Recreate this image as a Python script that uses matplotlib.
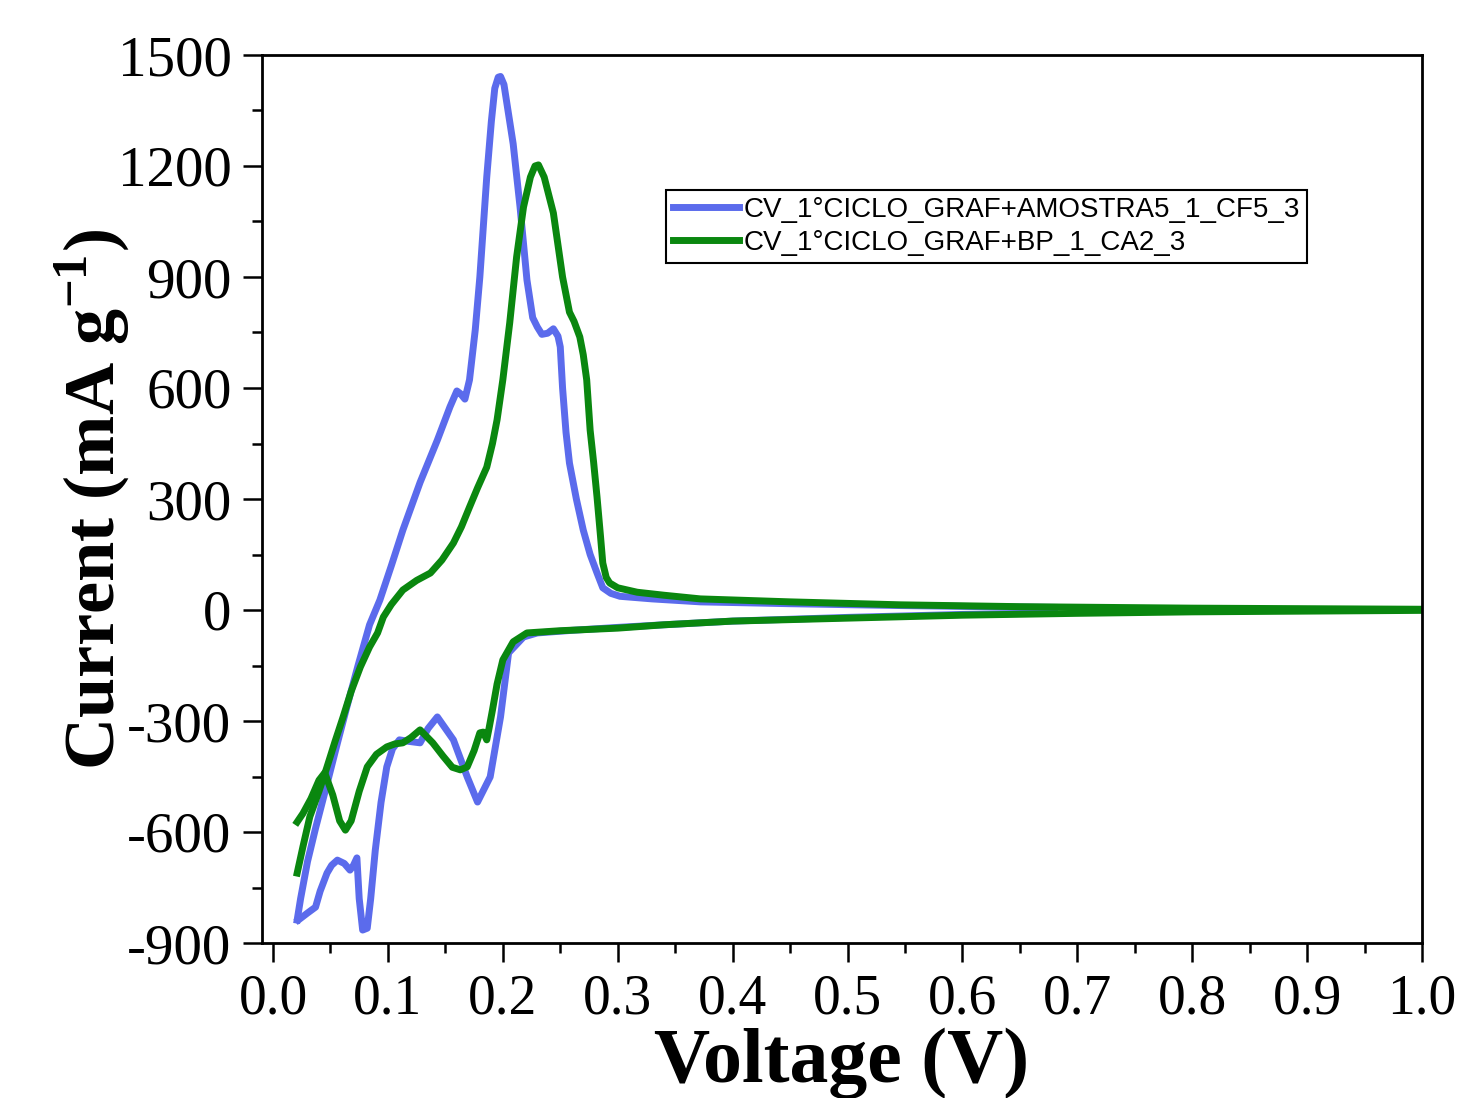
import matplotlib
matplotlib.use('Agg')
import matplotlib.pyplot as plt
from matplotlib.ticker import MultipleLocator

# series 1: CV_1°CICLO_GRAF+AMOSTRA5_1_CF5_3 (blue)
blue_an_v = [0.021, 0.024, 0.030, 0.037, 0.047, 0.056, 0.064, 0.074, 0.084, 0.093, 0.103, 0.113,
             0.128, 0.143, 0.154, 0.160, 0.163, 0.167, 0.171, 0.176, 0.180, 0.186, 0.190, 0.193,
             0.196, 0.198, 0.201, 0.204, 0.209, 0.215, 0.221, 0.226, 0.230, 0.234, 0.239, 0.244,
             0.248, 0.250, 0.252, 0.255, 0.258, 0.264, 0.270, 0.276, 0.282, 0.287, 0.294, 0.302,
             0.330, 0.372, 0.450, 0.546, 0.620, 0.680]
blue_an_i = [-838, -780, -680, -590, -470, -360, -265, -150, -40, 27, 120, 216,
             345, 459, 549, 592, 585, 570, 622, 757, 900, 1170, 1320, 1410,
             1440, 1442, 1420, 1360, 1260, 1089, 892, 790, 765, 745, 748, 760,
             740, 711, 600, 480, 397, 300, 216, 150, 100, 60, 45, 37,
             30, 22, 17, 12, 9, 7]
blue_ca_v = [0.680, 0.600, 0.500, 0.400, 0.340, 0.300, 0.260, 0.230, 0.218, 0.205, 0.198, 0.189,
             0.178, 0.169, 0.157, 0.143, 0.135, 0.128, 0.118, 0.110, 0.104, 0.099, 0.094, 0.089,
             0.085, 0.082, 0.078, 0.075, 0.073, 0.070, 0.067, 0.062, 0.056, 0.051, 0.047, 0.041,
             0.037, 0.030, 0.022]
blue_ca_i = [-8, -12, -20, -30, -40, -47, -55, -62, -73, -116, -289, -451,
             -519, -451, -351, -289, -320, -359, -355, -351, -375, -424, -520, -649,
             -780, -860, -865, -780, -670, -690, -703, -685, -676, -690, -711, -760,
             -803, -819, -838]

# series 2: CV_1°CICLO_GRAF+BP_1_CA2_3 (green)
green_an_v = [0.021, 0.026, 0.032, 0.040, 0.047, 0.054, 0.061, 0.068, 0.076, 0.084, 0.091, 0.096,
              0.103, 0.113, 0.125, 0.137, 0.147, 0.157, 0.164, 0.171, 0.178, 0.186, 0.191, 0.195,
              0.200, 0.206, 0.212, 0.218, 0.224, 0.228, 0.231, 0.236, 0.244, 0.252, 0.258, 0.262,
              0.267, 0.270, 0.273, 0.276, 0.279, 0.282, 0.285, 0.287, 0.290, 0.293, 0.300, 0.317,
              0.340, 0.372, 0.450, 0.546, 0.650, 0.800, 1.000]
green_an_i = [-711, -640, -559, -490, -424, -355, -289, -220, -154, -100, -62, -19,
              15, 54, 80, 100, 135, 181, 225, 278, 330, 386, 450, 514,
              622, 776, 954, 1089, 1170, 1200, 1203, 1170, 1073, 900, 805, 780,
              738, 690, 622, 486, 400, 305, 200, 127, 88, 73, 60, 48,
              40, 30, 22, 14, 9, 5, 2]
green_ca_v = [1.000, 0.900, 0.800, 0.700, 0.600, 0.500, 0.400, 0.340, 0.300, 0.250, 0.221, 0.209,
              0.200, 0.195, 0.191, 0.188, 0.186, 0.183, 0.180, 0.175, 0.169, 0.163, 0.156, 0.148,
              0.139, 0.128, 0.120, 0.113, 0.106, 0.099, 0.090, 0.082, 0.075, 0.068, 0.063, 0.058,
              0.052, 0.045, 0.040, 0.033, 0.026, 0.021]
green_ca_i = [-1, -3, -5, -9, -14, -22, -30, -40, -49, -56, -62, -86,
              -135, -200, -270, -320, -351, -330, -332, -380, -424, -432, -425, -395,
              -359, -324, -345, -359, -362, -370, -390, -424, -490, -570, -595, -570,
              -500, -440, -460, -510, -550, -573]

labels = ['CV_1°CICLO_GRAF+AMOSTRA5_1_CF5_3', 'CV_1°CICLO_GRAF+BP_1_CA2_3']
xticks = [0.0, 0.1, 0.2, 0.3, 0.4, 0.5, 0.6, 0.7, 0.8, 0.9, 1.0]
yticks = [-900, -600, -300, 0, 300, 600, 900, 1200, 1500]
c_blue = '#5B6BEC'
c_green = '#0A870F'

serif = 'Liberation Serif'
plt.rcParams['axes.unicode_minus'] = False
plt.rcParams['mathtext.fontset'] = 'custom'
plt.rcParams['mathtext.bf'] = 'Liberation Serif:bold'
plt.rcParams['mathtext.rm'] = 'Liberation Serif'

fig = plt.figure(figsize=(14.6, 10.98), dpi=100)
ax = fig.add_axes([262 / 1460, 1 - 943 / 1098, 1160 / 1460, 888 / 1098])

ax.plot(blue_an_v, blue_an_i, color=c_blue, lw=5, label=labels[0], solid_joinstyle='round')
ax.plot(blue_ca_v, blue_ca_i, color=c_blue, lw=5, solid_joinstyle='round')
ax.plot(green_an_v, green_an_i, color=c_green, lw=5, label=labels[1], solid_joinstyle='round')
ax.plot(green_ca_v, green_ca_i, color=c_green, lw=5, solid_joinstyle='round')

ax.set_xticks(xticks)
ax.set_xticklabels(['%.1f' % t for t in xticks], fontfamily=serif, fontsize=40)
ax.set_yticks(yticks)
ax.set_yticklabels([str(t) for t in yticks], fontfamily=serif, fontsize=41)
ax.xaxis.set_minor_locator(MultipleLocator(0.05))
ax.yaxis.set_minor_locator(MultipleLocator(150))
ax.set_xlim(-0.0096, 1.0)
ax.set_ylim(-900, 1500)

ax.tick_params(which='both', direction='out', top=False, right=False, width=1.8)
ax.tick_params(which='major', length=14, pad=8)
ax.tick_params(which='minor', length=7)
for s in ax.spines.values():
    s.set_linewidth(2)

ax.set_xlabel('Voltage (V)', fontfamily=serif, fontweight='bold', fontsize=56)
ax.xaxis.set_label_coords(0.5, -0.095)
ax.set_ylabel('Current (mA g$^{\\mathbf{-1}}$)', fontfamily=serif, fontweight='bold', fontsize=52)
ax.yaxis.set_label_coords(-0.112, 0.5)

leg = ax.legend(loc='upper left', bbox_to_anchor=(0.348, 0.848), borderaxespad=0,
                prop={'family': 'Liberation Sans', 'size': 20}, handlelength=2.4,
                handletextpad=0.15, labelspacing=0.25, borderpad=0.25, fancybox=False,
                framealpha=1, edgecolor='black')
leg.get_frame().set_linewidth(1.5)

fig.savefig('out.png', dpi=100)
